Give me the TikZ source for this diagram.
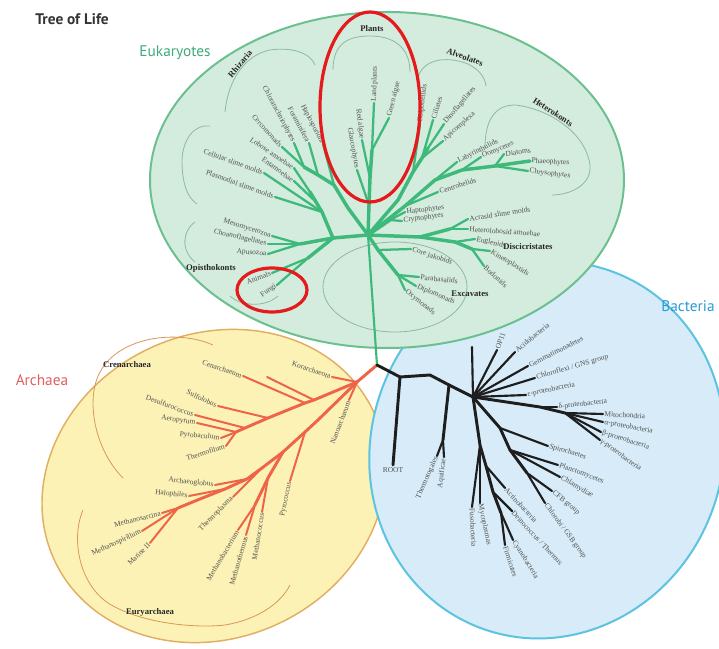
\documentclass[tikz,border=0pt]{standalone}
\usepackage{fontspec}
\setmainfont{Liberation Serif}
\newfontfamily\sansfam{PT Sans}
\definecolor{eukfill}{HTML}{D4ECDD}
\definecolor{eukline}{HTML}{6CC08F}
\definecolor{arcfill}{HTML}{FDF2B5}
\definecolor{arcline}{HTML}{E2AE62}
\definecolor{bacfill}{HTML}{D7ECF8}
\definecolor{bacline}{HTML}{5CC3E0}
\definecolor{gbr}{HTML}{3DB97C}
\definecolor{rbr}{HTML}{EE6448}
\definecolor{kbr}{HTML}{1E1E1E}
\definecolor{labgray}{HTML}{505050}
\definecolor{grparc}{HTML}{8DB9A0}
\definecolor{crparc}{HTML}{D89858}
\definecolor{euktxt}{HTML}{3DAB7D}
\definecolor{arctxt}{HTML}{E06060}
\definecolor{bactxt}{HTML}{2A9BD6}
\definecolor{ovalred}{HTML}{E41A1C}
% branch with a label at its tip: style, base, tip, name, text, angle, anchor
\newcommand{\lf}[7]{\coordinate (#4) at (#3); \draw[#1] (#2) -- (#4); \node[lab, rotate=#6, anchor=#7] (#4-l) at (#4) {#5};}
\begin{document}
\begin{tikzpicture}[x=0.75pt,y=-0.75pt,
  lab/.style={text=labgray, font=\fontsize{5.6}{6.5}\selectfont, inner sep=1pt},
  grp/.style={text=black!85, font=\fontsize{6.5}{7}\selectfont\bfseries, inner sep=1pt},
  big/.style={font=\sansfam\fontsize{11.5}{13}\selectfont, inner sep=0pt},
  gb/.style={draw=gbr, line width=2.6pt, line cap=round},
  gt/.style={draw=gbr, line width=1.7pt, line cap=round},
  rb/.style={draw=rbr, line width=2.2pt, line cap=round},
  rt/.style={draw=rbr, line width=1.5pt, line cap=round},
  kb/.style={draw=kbr, line width=2.2pt, line cap=round},
  kt/.style={draw=kbr, line width=1.6pt, line cap=round},
  garc/.style={draw=grparc, line width=0.6pt},
  yarc/.style={draw=crparc, line width=0.6pt},
  redov/.style={draw=ovalred, line width=2.4pt}]
\useasboundingbox (0,0) rectangle (719,649);
\fill[white] (0,0) rectangle (719,649);
% domains
\begin{scope}[shift={(214,486)}, rotate=25]
  \filldraw[fill=arcfill, draw=arcline, line width=1.1pt] (0,0) ellipse [x radius=176, y radius=152];
\end{scope}
\begin{scope}[shift={(547,450)}, rotate=-20]
  \filldraw[fill=bacfill, draw=bacline, line width=1.5pt] (0,0) ellipse [x radius=176, y radius=190];
\end{scope}
\filldraw[fill=eukfill, draw=eukline, line width=1.5pt] (387,180) ellipse [x radius=237, y radius=168];
% group arcs
\draw[garc] (333,70) .. controls (333,42) and (350,36) .. (370,36) .. controls (392,36) and (410,46) .. (410,72);
\draw[garc] (418,78) .. controls (422,60) and (445,55) .. (468,64) .. controls (480,70) and (485,78) .. (486,86);
\draw[garc] (485,148) .. controls (485,120) and (495,105) .. (515,105) .. controls (545,108) and (585,130) .. (590,165) .. controls (592,185) and (570,195) .. (552,195);
\draw[garc] (225,112) .. controls (228,80) and (245,55) .. (270,50) .. controls (290,47) and (310,52) .. (315,65);
\draw[garc] (210,126) .. controls (195,124) and (183,138) .. (182,160) .. controls (182,185) and (188,198) .. (197,204);
\draw[garc] (195,222) .. controls (183,230) and (180,250) .. (195,262);
\draw[garc] (230,296) .. controls (240,306) and (265,308) .. (278,296);
\draw[garc] (395,287) ellipse [x radius=72, y radius=45];
\draw[yarc] (213,345) .. controls (180,330) and (120,335) .. (100,372) .. controls (85,400) and (95,450) .. (123,478);
\draw[yarc] (83,510) .. controls (70,540) and (80,590) .. (115,607) .. controls (150,625) and (200,628) .. (225,625) .. controls (255,620) and (280,605) .. (290,585);
% ---------- Eukaryote tree ----------
\coordinate (R) at (377,365);
\coordinate (E0) at (368,235);
\draw[gbr, line width=1.6pt] (R) -- (E0);
% plants
\coordinate (P0) at (369,205); \coordinate (P1) at (370,178); \coordinate (P2) at (372,150);
\draw[gb] (E0) -- (P0) -- (P1) -- (P2);
\lf{gt}{P2}{374,103}{landpl}{Land plants}{88}{west}
\lf{gt}{P0}{357,170}{glauc}{Glaucophytes}{-80}{east}
\lf{gt}{P1}{362,140}{redal}{Red algae}{-83}{east}
\lf{gt}{P2}{389,118}{greenal}{Green algae}{76}{west}
% alveolates
\coordinate (A0) at (398,200); \coordinate (A1) at (413,172); \coordinate (A2) at (422,158); \coordinate (A3) at (428,148);
\draw[gb] (E0) -- (A0) -- (A1) -- (A2) -- (A3);
\lf{gt}{A1}{420,124}{colpo}{Colpodellids}{83}{west}
\lf{gt}{A2}{433,120}{cilia}{Ciliates}{73}{west}
\lf{gt}{A3}{444,124}{dino}{Dinoflagellates}{50}{west}
\lf{gt}{A2}{443,141}{apic}{Apicomplexa}{42}{west}
% heterokonts
\coordinate (H0) at (405,206); \coordinate (H1) at (435,180); \coordinate (H2) at (462,170); \coordinate (H3) at (495,166);
\draw[gb] (E0) -- (H0) -- (H1) -- (H2) -- (H3);
\lf{gt}{H0}{438,192}{centro}{Centrohelids}{18}{west}
\lf{gt}{H1}{457,162}{laby}{Labyrinthulids}{27}{west}
\lf{gt}{H2}{481,157}{oomy}{Oomycetes}{23}{west}
\lf{gt}{H3}{504,154}{diat}{Diatoms}{8}{west}
\lf{gb}{H3}{530,161}{phaeo}{Phaeophytes}{-3}{west}
\lf{gt}{H3}{528,171}{chryso}{Chrysophytes}{-7}{west}
% haptophytes / cryptophytes
\coordinate (HC) at (390,220);
\draw[gb] (E0) -- (HC);
\lf{gt}{HC}{405,212}{hapto}{Haptophytes}{6}{west}
\lf{gt}{HC}{402,221}{crypto}{Cryptophytes}{8}{west}
% discicristates
\coordinate (D0) at (420,237); \coordinate (D1) at (450,229); \coordinate (D2) at (455,242); \coordinate (D3) at (472,249);
\draw[gb] (E0) -- (D0) -- (D1); \draw[gb] (D0) -- (D2) -- (D3);
\lf{gt}{D1}{468,219}{acras}{Acrasid slime molds}{9}{west}
\lf{gt}{D1}{468,229}{heterol}{Heterolobosid amoebae}{-4}{west}
\lf{gt}{D2}{475,239}{eugl}{Euglenids}{-13}{west}
\lf{gt}{D3}{490,251}{kineto}{Kinetoplastids}{-31}{west}
\lf{gt}{D3}{484,266}{bodo}{Bodonids}{-42}{west}
% excavates
\coordinate (X0) at (378,250); \coordinate (X1) at (398,275);
\draw[gb] (E0) -- (X0) -- (X1);
\lf{gt}{X0}{411,249}{jakob}{Core jakobids}{-19}{west}
\lf{gt}{X1}{419,277}{parab}{Parabasalids}{-6}{west}
\lf{gt}{X1}{416,286}{diplo}{Diplomonads}{-23}{west}
\lf{gt}{X1}{405,290}{oxym}{Oxymonads}{-39}{west}
% opisthokonts
\coordinate (U0) at (333,238); \coordinate (O1) at (300,244); \coordinate (O2) at (308,258);
\draw[gb] (E0) -- (U0) -- (O1); \draw[gb] (U0) -- (O2);
\lf{gt}{O1}{272,236}{meso}{Mesomycetozoa}{-17}{east}
\lf{gt}{O1}{268,244}{choano}{Choanoflagellates}{-13}{east}
\lf{gt}{O1}{268,254}{apuso}{Apusozoa}{-4}{east}
\lf{gt}{O2}{272,273}{anim}{Animals}{20}{east}
\lf{gt}{O2}{277,285}{fungi}{Fungi}{35}{east}
% amoebozoa
\coordinate (AM0) at (322,212); \coordinate (AM2) at (316,202); \coordinate (AM1) at (310,192);
\draw[gb] (U0) -- (AM0) -- (AM2) -- (AM1);
\lf{gt}{AM1}{294,168}{lobose}{Lobose amoebae}{-34}{east}
\lf{gt}{AM2}{294,181}{entam}{Entamoebae}{-36}{east}
\lf{gt}{AM0}{264,173}{cellsm}{Cellular slime molds}{-20}{east}
\lf{gt}{AM0}{275,197}{plasm}{Plasmodial slime molds}{-20}{east}
% rhizaria
\coordinate (RZ0) at (348,208); \coordinate (RZ1) at (334,185); \coordinate (RZ2) at (318,175); \coordinate (RZ3) at (304,167);
\draw[gb] (E0) -- (RZ0) -- (RZ1) -- (RZ2) -- (RZ3);
\lf{gt}{RZ1}{323,144}{haplo}{Haplosporidia}{-62}{east}
\lf{gt}{RZ2}{309,143}{foram}{Foraminifera}{-62}{east}
\lf{gt}{RZ3}{294,143}{chlora}{Chlorarachniophytes}{-62}{east}
\lf{gt}{RZ3}{282,147}{cercom}{Cercomonads}{-48}{east}
% eukaryote group labels
\node[grp] (plantsg) at (372,29) {Plants};
\node[grp, rotate=-20] (alvg) at (465,57) {Alveolates};
\node[grp, rotate=-33] (hetg) at (553,112) {Heterokonts};
\node[grp, rotate=50] (rhizg) at (240,64) {Rhizaria};
\node[grp] (discg) at (528,247) {Discicristates};
\node[grp] (excg) at (470,294) {Excavates};
\node[grp] (opig) at (211,268) {Opisthokonts};
% ---------- Archaea tree ----------
\coordinate (AR0) at (357,382);
\draw[rb] (R) -- (AR0);
\lf{rt}{AR0}{332,377}{korarch}{Korarchaeota}{-19}{east}
\lf{rt}{AR0}{349,400}{nano}{Nanoarchaeum}{69}{east}
\coordinate (C0a) at (314,400); \coordinate (C0) at (305,403); \coordinate (C1) at (268,418); \coordinate (C2) at (245,428); \coordinate (C3) at (236,432);
\draw[rb] (AR0) -- (C0a) -- (C0) -- (C1) -- (C2) -- (C3);
\coordinate (unl) at (267,377);
\draw[rt] (C0a) -- (unl);
\lf{rt}{C0}{243,376}{cenar}{Cenarchaeum}{-19}{east}
\lf{rt}{C1}{218,406}{sulfo}{Sulfolobus}{-25}{east}
\lf{rt}{C2}{195,415}{desulf}{Desulfurococcus}{-20}{east}
\lf{rt}{C3}{197,423}{aerop}{Aeropyrum}{-8}{east}
\lf{rt}{C3}{221,438}{pyrob}{Pyrobaculum}{-5}{east}
\lf{rt}{C3}{226,446}{thermof}{Thermofilum}{17}{east}
\coordinate (EU1) at (318,420); \coordinate (PYb) at (305,432); \coordinate (EU2) at (283,452);
\coordinate (EU3) at (262,468); \coordinate (EU4) at (247,479); \coordinate (EU5) at (225,489);
\coordinate (EU6) at (200,499); \coordinate (EU7) at (178,508);
\draw[rb] (AR0) -- (EU1) -- (PYb) -- (EU2) -- (EU3) -- (EU4) -- (EU5) -- (EU6) -- (EU7);
\lf{rt}{PYb}{290,481}{pyro}{Pyrococcus}{78}{east}
\coordinate (MB0) at (268,478); \coordinate (MB1) at (255,505);
\draw[rb] (EU2) -- (MB0) -- (MB1);
\lf{rt}{MB0}{262,512}{mcocc}{Methanococcus}{81}{east}
\lf{rt}{MB1}{238,530}{mbact}{Methanobacterium}{59}{east}
\lf{rt}{MB1}{246,535}{mtherm}{Methanothermus}{74}{east}
\lf{rt}{EU3}{233,497}{thermopl}{Thermoplasma}{45}{east}
\lf{rt}{EU4}{215,485}{archglob}{Archaeoglobus}{-6}{east}
\lf{rt}{EU5}{189,496}{halo}{Halophiles}{-6}{east}
\lf{rt}{EU7}{162,513}{msarc}{Methanosarcina}{14}{east}
\lf{rt}{EU7}{142,531}{mspir}{Methanospirillum}{25}{east}
\lf{rt}{EU7}{150,543}{marine}{Marine II}{45}{east}
\node[grp] (creng) at (127,365) {Crenarchaea};
\node[grp] (euryg) at (150,612) {Euryarchaea};
% ---------- Bacteria tree ----------
\coordinate (B0) at (400,377); \coordinate (B1) at (430,375); \coordinate (B2) at (449,385); \coordinate (HB) at (473,397);
\draw[kb] (R) -- (B0) -- (B1) -- (B2) -- (HB);
\coordinate (rootT) at (393,465);
\draw[kb] (B0) -- (rootT);
\node[lab, below=1pt] (rootlab) at (rootT) {ROOT};
\coordinate (TA0) at (443,440);
\draw[kb] (B2) -- (TA0);
\lf{kt}{TA0}{437,456}{thermot}{Thermotogales}{66}{east}
\lf{kt}{TA0}{444,457}{aquif}{Aquificae}{83}{east}
\coordinate (up1) at (472,347);
\draw[kt] (HB) -- (up1);
\lf{kt}{HB}{497,350}{op11}{OP11}{70}{west}
\lf{kt}{HB}{515,352}{acido}{Acidobacteria}{40}{west}
\lf{kt}{HB}{528,366}{gemma}{Gemmatimonadetes}{27}{west}
\lf{kt}{HB}{535,378}{chlfx}{Chloroflexi / GNS group}{16}{west}
\lf{kt}{HB}{526,395}{eps}{ε-proteobacteria}{12}{west}
\coordinate (PR0) at (540,407); \coordinate (PR1) at (565,413);
\draw[kb] (HB) -- (PR0) -- (PR1);
\lf{kt}{PR0}{557,407}{delta}{δ-proteobacteria}{6}{west}
\lf{kt}{PR1}{603,414}{mito}{Mitochondria}{-3}{west}
\lf{kt}{PR1}{603,422}{alpha}{α-proteobacteria}{-11}{west}
\lf{kt}{PR1}{601,432}{beta}{β-proteobacteria}{-18}{west}
\lf{kt}{PR1}{600,440}{gamma}{γ-proteobacteria}{-36}{west}
\coordinate (SP0) at (500,428); \coordinate (G1) at (510,450); \coordinate (G2) at (527,473);
\draw[kb] (HB) -- (SP0) -- (G1) -- (G2);
\lf{kt}{SP0}{548,446}{spiro}{Spirochaetes}{-17}{west}
\lf{kt}{G1}{558,465}{planc}{Planctomycetes}{-20}{west}
\lf{kt}{G1}{560,477}{chlam}{Chlamydiae}{-30}{west}
\lf{kt}{G2}{552,491}{cfb}{CFB group}{-40}{west}
\lf{kt}{G2}{545,503}{chlb}{Chlorobi / GSB group}{-54}{west}
\coordinate (AC1) at (480,445); \coordinate (AC2) at (486,466); \coordinate (AC3) at (493,492); \coordinate (AC4) at (501,513);
\draw[kb] (HB) -- (AC1) -- (AC2) -- (AC3) -- (AC4);
\lf{kt}{AC2}{505,488}{actino}{Actinobacteria}{-47}{west}
\lf{kt}{AC3}{512,511}{deino}{Deinococcus / Thermus}{-47}{west}
\lf{kt}{AC4}{513,540}{cyano}{Cyanobacteria}{-58}{west}
\lf{kt}{AC4}{505,545}{firmi}{Firmicutes}{-72}{west}
\lf{kt}{AC1}{480,503}{myco}{Mycoplasmas}{-78}{west}
\lf{kt}{AC1}{472,507}{fuso}{Fusobacteria}{-87}{west}
% ---------- titles ----------
\node[big, font=\sansfam\bfseries\fontsize{11.5}{13}\selectfont, text=black!80] (title) at (72,19) {Tree of Life};
\node[big, text=euktxt] (euk) at (175,53) {Eukaryotes};
\node[big, text=arctxt] (arch) at (42,380) {Archaea};
\node[big, text=bactxt] (bac) at (688,306) {Bacteria};
% ---------- red highlight ovals ----------
\draw[redov] (370,107) ellipse [x radius=50, y radius=95];
\draw[redov] (272,290) ellipse [x radius=35, y radius=22];
\end{tikzpicture}
\end{document}
